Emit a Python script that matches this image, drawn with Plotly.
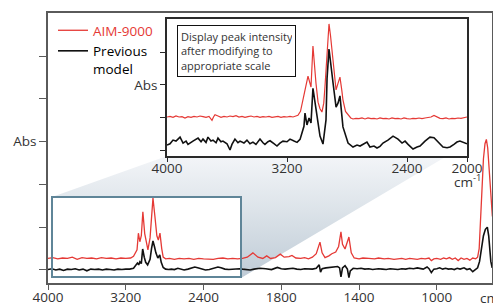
import plotly.graph_objects as go

# ---------------- data (wavenumber cm-1, absorbance in plot units) ----------------
main_wn_red = [4000, 3950, 3900, 3850, 3800, 3750, 3700, 3650, 3600, 3550, 3500, 3450, 3400,
               3350, 3300, 3250, 3200, 3150, 3120, 3084, 3070, 3055, 3040, 3024, 3005, 2985,
               2972, 2950, 2935, 2920, 2900, 2880, 2865, 2848, 2830, 2815, 2790, 2750, 2700,
               2650, 2600, 2550, 2500, 2450, 2400, 2350, 2300, 2250, 2200, 2150, 2100, 2050,
               2000, 1975, 1946, 1920, 1895, 1875, 1855, 1830, 1805, 1785, 1760, 1745, 1725,
               1700, 1680, 1660, 1640, 1620, 1601, 1590, 1575, 1555, 1540, 1520, 1505, 1493,
               1485, 1472, 1460, 1452, 1440, 1425, 1400, 1380, 1350, 1320, 1300, 1270, 1250,
               1220, 1200, 1180, 1160, 1140, 1120, 1100, 1080, 1060, 1040, 1028, 1015, 1000,
               980, 965, 950, 935, 920, 905, 890, 875, 860, 845, 830, 815, 800, 790, 782,
               775, 768, 760, 752, 745, 738, 732, 726, 720, 714]
main_abs_red = [0.27, 0.29, 0.26, 0.28, 0.27, 0.30, 0.25, 0.29, 0.27, 0.28, 0.26, 0.29, 0.27,
                0.28, 0.26, 0.28, 0.27, 0.28, 0.32, 0.47, 0.86, 0.66, 0.80, 1.36, 0.85, 0.55,
                0.47, 0.75, 1.30, 1.68, 1.25, 0.80, 0.70, 0.86, 0.50, 0.30, 0.26, 0.27, 0.25,
                0.27, 0.26, 0.27, 0.25, 0.27, 0.26, 0.26, 0.25, 0.27, 0.28, 0.26, 0.27, 0.26,
                0.27, 0.30, 0.40, 0.30, 0.27, 0.33, 0.27, 0.29, 0.37, 0.30, 0.31, 0.34, 0.28,
                0.27, 0.29, 0.26, 0.30, 0.38, 0.65, 0.40, 0.29, 0.33, 0.38, 0.42, 0.55, 0.89,
                0.60, 0.49, 0.65, 0.77, 0.40, 0.28, 0.26, 0.28, 0.27, 0.26, 0.28, 0.26, 0.27,
                0.25, 0.26, 0.27, 0.25, 0.27, 0.26, 0.25, 0.27, 0.26, 0.28, 0.22, 0.26, 0.27,
                0.25, 0.28, 0.26, 0.29, 0.25, 0.28, 0.22, 0.28, 0.25, 0.27, 0.23, 0.28, 0.26,
                0.30, 0.50, 1.10, 2.00, 2.60, 2.95, 3.05, 2.85, 2.40, 2.00, 1.60, 1.25]

main_wn_black = [4000, 3960, 3920, 3880, 3840, 3800, 3760, 3720, 3680, 3640, 3600, 3560, 3520,
                 3480, 3440, 3400, 3360, 3320, 3280, 3240, 3200, 3160, 3120, 3100, 3080, 3067,
                 3055, 3040, 3026, 3010, 2995, 2975, 2950, 2935, 2920, 2905, 2890, 2870, 2850,
                 2835, 2815, 2790, 2760, 2730, 2700, 2664, 2630, 2600, 2560, 2520, 2490, 2460,
                 2420, 2380, 2340, 2300, 2252, 2220, 2180, 2140, 2100, 2060, 2030, 2000, 1960,
                 1940, 1910, 1880, 1850, 1820, 1800, 1780, 1760, 1740, 1720, 1700, 1680, 1660,
                 1640, 1620, 1605, 1598, 1590, 1570, 1550, 1530, 1510, 1500, 1493, 1485, 1472,
                 1460, 1452, 1445, 1430, 1410, 1390, 1370, 1350, 1330, 1300, 1280, 1260, 1240,
                 1220, 1200, 1180, 1160, 1140, 1120, 1100, 1080, 1070, 1050, 1040, 1028, 1015,
                 1000, 985, 970, 955, 940, 925, 910, 895, 880, 860, 845, 830, 815, 800, 790,
                 780, 770, 760, 750, 740, 733, 727, 722, 715]
main_abs_black = [0.01, 0.03, 0.00, 0.02, -0.01, 0.02, 0.01, 0.03, 0.00, 0.02, -0.02, 0.02, 0.01,
                  0.02, 0.00, 0.02, 0.01, 0.00, 0.02, 0.01, 0.02, 0.02, 0.04, 0.09, 0.16, 0.12,
                  0.19, 0.15, 0.49, 0.30, 0.18, 0.12, 0.25, 0.50, 0.68, 0.55, 0.40, 0.28, 0.35,
                  0.18, 0.06, 0.02, 0.01, 0.02, 0.01, 0.04, 0.01, 0.00, 0.02, 0.05, 0.07, 0.05,
                  0.02, 0.00, 0.01, 0.03, 0.07, 0.05, 0.02, 0.01, 0.02, 0.04, 0.03, 0.02, 0.00,
                  0.02, 0.04, 0.03, 0.01, 0.06, 0.03, 0.02, 0.03, 0.04, 0.02, 0.01, 0.03, 0.02,
                  0.02, 0.04, 0.12, -0.05, 0.03, 0.05, 0.06, 0.07, 0.08, 0.05, -0.16, 0.05, 0.10,
                  0.02, -0.18, -0.02, 0.04, 0.03, 0.04, 0.02, 0.03, 0.01, 0.03, 0.02, 0.01, 0.03,
                  0.02, 0.01, 0.03, 0.02, 0.04, 0.03, 0.05, 0.04, 0.02, 0.07, 0.03, -0.06, 0.02,
                  0.03, 0.05, 0.02, 0.04, 0.02, 0.03, 0.01, 0.04, 0.02, 0.05, 0.01, 0.03, -0.04, 0.02, 0.05,
                  0.20, 0.50, 0.80, 0.95, 1.00, 0.80, 0.45, 0.20, 0.05]

inset_wn_red = [4000, 3980, 3960, 3940, 3920, 3900, 3880, 3860, 3840, 3820, 3800, 3780, 3760,
                3740, 3720, 3700, 3690, 3680, 3660, 3640, 3620, 3600, 3580, 3560, 3540, 3520,
                3500, 3480, 3460, 3440, 3420, 3400, 3380, 3360, 3340, 3320, 3300, 3280, 3260,
                3240, 3220, 3200, 3180, 3160, 3140, 3127, 3110, 3095, 3087, 3075, 3060, 3048,
                3040, 3027, 3015, 3007, 2993, 2980, 2967, 2955, 2947, 2935, 2925, 2920, 2910,
                2893, 2880, 2873, 2860, 2847, 2835, 2827, 2810, 2793, 2775, 2760, 2740, 2720,
                2700, 2680, 2660, 2640, 2620, 2600, 2580, 2560, 2540, 2520, 2500, 2480, 2460,
                2440, 2420, 2400, 2380, 2360, 2340, 2320, 2300, 2280, 2260, 2240, 2220, 2200,
                2180, 2160, 2140, 2120, 2100, 2080, 2060, 2040, 2020, 2000]
inset_abs_red = [1.03, 1.05, 1.02, 1.06, 1.03, 1.04, 1.00, 1.04, 1.02, 1.05, 1.03, 1.06, 1.04,
                 1.02, 1.05, 0.93, 1.03, 1.10, 1.06, 1.02, 1.05, 1.03, 1.06, 1.04, 1.07, 1.03,
                 1.05, 1.02, 1.04, 1.06, 1.03, 1.05, 1.02, 1.04, 1.03, 1.05, 1.02, 1.04, 1.05,
                 1.02, 1.04, 1.03, 1.05, 1.03, 1.05, 1.08, 1.20, 1.55, 1.76, 1.95, 2.27, 2.05,
                 1.94, 3.18, 2.40, 2.06, 1.48, 1.28, 1.18, 1.45, 1.94, 2.90, 3.75, 3.85, 3.50,
                 2.76, 2.15, 1.85, 2.05, 2.24, 1.85, 1.55, 1.20, 1.09, 1.00, 0.97, 0.99, 0.98,
                 1.00, 0.97, 1.00, 0.98, 0.99, 0.97, 1.00, 0.98, 0.99, 0.97, 1.00, 0.98, 0.99,
                 0.97, 1.00, 0.98, 0.97, 0.99, 0.98, 1.00, 0.98, 1.00, 1.01, 1.03, 1.08, 1.04,
                 0.99, 0.98, 1.00, 0.97, 0.99, 0.98, 1.00, 0.99, 1.02, 1.03]

inset_wn_black = [4000, 3980, 3960, 3940, 3913, 3893, 3873, 3860, 3827, 3793, 3773, 3760, 3740,
                  3727, 3707, 3693, 3673, 3660, 3640, 3627, 3600, 3580, 3567, 3547, 3527, 3513,
                  3487, 3467, 3447, 3427, 3407, 3380, 3360, 3347, 3327, 3313, 3287, 3267, 3247,
                  3227, 3200, 3180, 3153, 3133, 3113, 3100, 3087, 3080, 3067, 3053, 3040, 3027,
                  3007, 2993, 2980, 2960, 2940, 2933, 2920, 2893, 2873, 2860, 2847, 2827, 2807,
                  2793, 2760, 2733, 2713, 2687, 2667, 2647, 2620, 2600, 2580, 2560, 2527, 2493,
                  2460, 2433, 2413, 2393, 2360, 2333, 2313, 2280, 2247, 2220, 2200, 2180, 2160,
                  2133, 2113, 2087, 2067, 2047, 2027, 2000]
inset_abs_black = [0.18, 0.22, 0.33, 0.30, 0.42, 0.24, 0.30, 0.20, 0.30, 0.39, 0.28, 0.36, 0.26,
                   0.42, 0.30, 0.33, 0.25, 0.39, 0.28, 0.30, 0.22, 0.03, 0.20, 0.36, 0.25, 0.30,
                   0.24, 0.33, 0.22, 0.27, 0.20, 0.36, 0.25, 0.20, 0.28, 0.31, 0.22, 0.15, 0.24,
                   0.30, 0.28, 0.36, 0.30, 0.26, 0.35, 0.58, 0.75, 1.15, 0.79, 1.00, 0.85, 1.90,
                   1.24, 0.85, 0.45, 0.21, 0.94, 2.20, 3.09, 2.06, 1.33, 1.45, 1.67, 0.73, 0.40,
                   0.24, 0.12, 0.18, 0.15, 0.22, 0.27, 0.12, 0.15, 0.09, 0.14, 0.24, 0.33, 0.45,
                   0.36, 0.24, 0.30, 0.20, 0.06, 0.12, 0.15, 0.30, 0.42, 0.40, 0.30, 0.22, 0.12,
                   0.10, 0.12, 0.20, 0.27, 0.30, 0.26, 0.22]

main_tick_wn = [4000, 3200, 2400, 1800, 1400, 1000]
inset_tick_wn = [4000, 3200, 2400, 2000]
main_y_ticks = [0, 1, 2, 3, 4, 5]
main_y_labels = ["", "", "", "Abs", "", ""]
inset_y_ticks = [0, 1, 2, 3]
inset_y_labels = ["", "", "Abs", ""]

series_names = ['<span style="color:#e53935">AIM-9000</span>', "Previous<br>model"]
note_text = "Display peak intensity<br>after modifying to<br>appropriate scale"

RED = "#e53935"
BLACK = "#111111"
VIEW_W, VIEW_H = 501, 304      # browser window
OFF = 8                        # default page (body) margin in the browser
W, H = VIEW_W - OFF, VIEW_H - OFF
FONT = "Open Sans"


def to_axis(wn):
    """Axis with a 2x scale change at 2000 cm-1 (above 2000 compressed)."""
    return wn if wn <= 2000 else 2000 + (wn - 2000) / 2.0


def px(x):
    """window pixel x -> paper fraction"""
    return (x - OFF) / W


def py(y):
    """window pixel y (from top) -> paper fraction"""
    return (VIEW_H - y) / H


fig = go.Figure()

# --- decorative projection shading (pixel overlay axis, drawn first / lowest) ---
poly_x = [52, 167, 447, 241, 241, 52]
poly_y = [VIEW_H - v for v in [197, 156, 156, 278, 197, 197]]
fig.add_trace(go.Scatter(
    x=poly_x, y=poly_y, mode="lines", fill="toself", line=dict(width=0),
    fillgradient=dict(type="vertical",
                      colorscale=[[0, "#bfcbd6"], [0.55, "#dce3e9"], [1, "#f3f5f8"]]),
    hoverinfo="skip", showlegend=False, xaxis="x", yaxis="y"))

# --- main spectra ---
fig.add_trace(go.Scatter(
    x=[to_axis(w) for w in main_wn_red], y=main_abs_red, mode="lines",
    line=dict(color=RED, width=1.3), name=series_names[0], xaxis="x2", yaxis="y2"))
fig.add_trace(go.Scatter(
    x=[to_axis(w) for w in main_wn_black], y=main_abs_black, mode="lines",
    line=dict(color=BLACK, width=1.6), name=series_names[1], xaxis="x2", yaxis="y2"))

# --- inset spectra ---
fig.add_trace(go.Scatter(
    x=inset_wn_red, y=inset_abs_red, mode="lines", line=dict(color=RED, width=1.2),
    showlegend=False, xaxis="x3", yaxis="y3"))
fig.add_trace(go.Scatter(
    x=inset_wn_black, y=inset_abs_black, mode="lines", line=dict(color=BLACK, width=1.6),
    showlegend=False, xaxis="x3", yaxis="y3"))

tickfont = dict(family=FONT, size=13.5, color="#333333")
common = dict(showgrid=False, zeroline=False, automargin=False, tickfont=tickfont,
              showline=True, mirror=True, ticks="outside", tickwidth=1.2)

fig.update_layout(
    width=W, height=H, margin=dict(l=0, r=0, t=0, b=0, pad=0, autoexpand=False),
    paper_bgcolor="white", plot_bgcolor="rgba(0,0,0,0)",
    font=dict(family=FONT, color="#333333"),
    showlegend=True,
    legend=dict(x=px(53), y=py(15), xanchor="left", yanchor="top", valign="top",
                bgcolor="rgba(0,0,0,0)", font=dict(family=FONT, size=13.5, color="#000000"),
                tracegroupgap=0, itemwidth=30),
    xaxis=dict(domain=[0, 1], range=[OFF, VIEW_W], visible=False, fixedrange=True, automargin=False),
    yaxis=dict(domain=[0, 1], range=[0, H], visible=False, fixedrange=True, automargin=False),
    xaxis2=dict(domain=[px(48), px(492)], range=[3000, 716], anchor="y2",
                tickvals=[to_axis(w) for w in main_tick_wn], ticktext=[str(w) for w in main_tick_wn],
                linecolor="#5a5a5a", linewidth=1.5, ticklen=5, tickcolor="#5a5a5a",
                ticklabelstandoff=-4, **common),
    yaxis2=dict(domain=[py(283), py(13)], range=[-0.304, 6.005], anchor="x2",
                tickvals=main_y_ticks, ticktext=main_y_labels,
                linecolor="#5a5a5a", linewidth=1.5, ticklen=7, tickcolor="#5a5a5a", **common),
    xaxis3=dict(domain=[px(167), px(467)], range=[4000, 2000], anchor="y3",
                tickvals=inset_tick_wn, ticktext=[str(w) for w in inset_tick_wn],
                linecolor="#2a2a2a", linewidth=1.5, ticklen=4, tickcolor="#2a2a2a",
                ticklabelstandoff=-5, **common),
    yaxis3=dict(domain=[py(156), py(19)], range=[-0.152, 4.0], anchor="x3",
                tickvals=inset_y_ticks, ticktext=inset_y_labels,
                linecolor="#2a2a2a", linewidth=1.5, ticklen=5, tickcolor="#2a2a2a", **common),
)

# zoom box on the main plot
fig.add_shape(type="rect", xref="x", yref="y", x0=52, x1=241, y0=VIEW_H - 277, y1=VIEW_H - 197,
              line=dict(color="#5f8598", width=2), fillcolor="rgba(0,0,0,0)", layer="above")

# note box inside the inset
fig.add_annotation(text=note_text, xref="paper", yref="paper", x=px(177), y=py(25),
                   xanchor="left", yanchor="top", align="left", showarrow=False,
                   font=dict(family=FONT, size=11, color="#333333"),
                   bordercolor="#111111", borderwidth=1, borderpad=3, bgcolor="white",
                   width=111)

# unit labels
fig.add_annotation(text="cm<sup>-1</sup>", xref="paper", yref="paper", x=px(483), y=py(181),
                   xanchor="right", yanchor="middle", showarrow=False,
                   font=dict(family=FONT, size=13.5, color="#333333"))
fig.add_annotation(text="cm<sup>-1</sup>", xref="paper", yref="paper", x=px(479), y=py(297),
                   xanchor="left", yanchor="middle", showarrow=False, borderpad=0,
                   font=dict(family=FONT, size=13.5, color="#333333"))

fig.write_html("out.html", config={"displayModeBar": False})
